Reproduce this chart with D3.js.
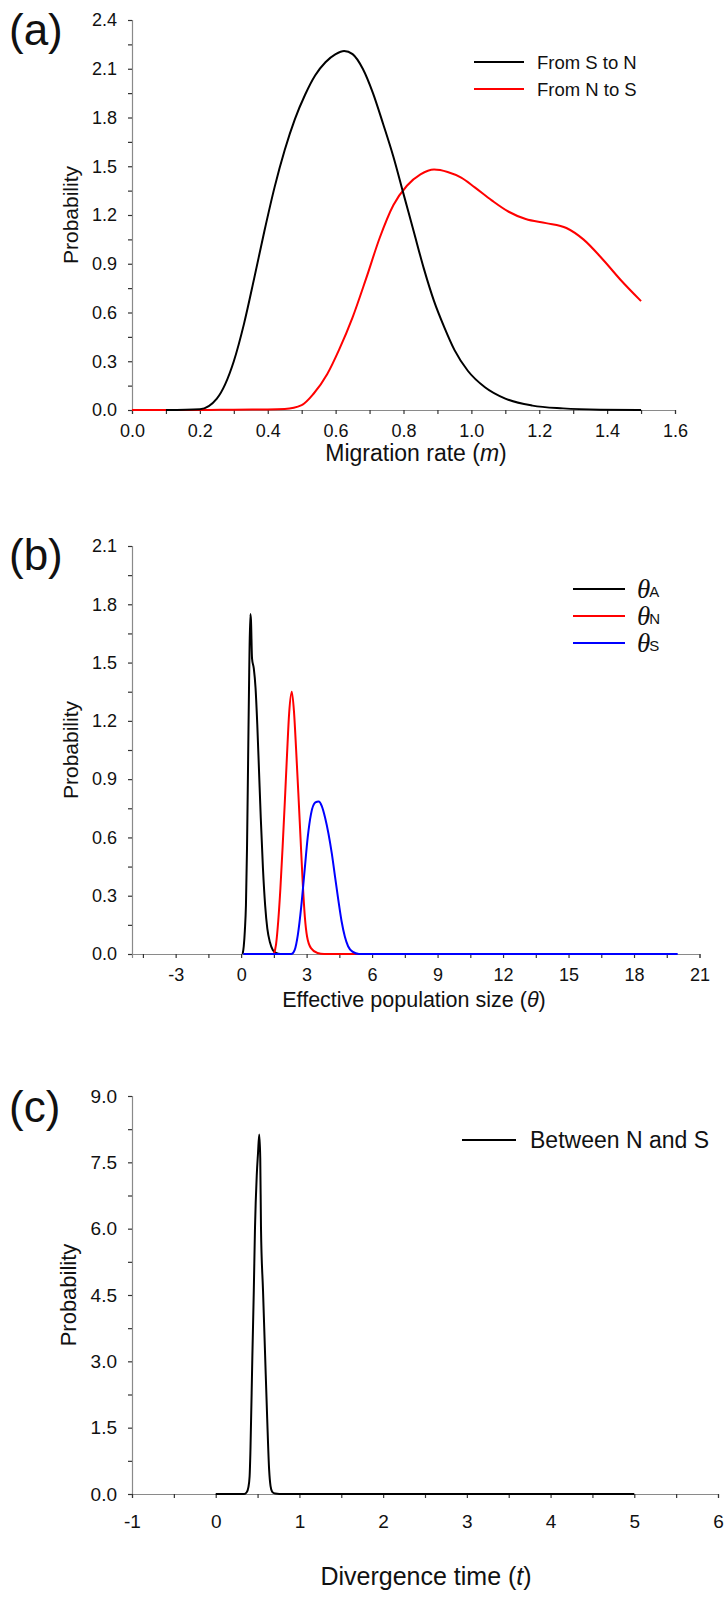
<!DOCTYPE html>
<html>
<head>
<meta charset="utf-8">
<script src="https://cdn.jsdelivr.net/npm/d3@7"></script>
<style>
  html, body { margin: 0; padding: 0; background: #fff; }
  svg { display: block; }
  text { font-family: "Liberation Sans", Arial, sans-serif; fill: #111; }
</style>
</head>
<body>
<svg id="chart" width="726" height="1603"></svg>
<script>
// ---------------- DATA ----------------
// Panel (a): migration rate m
const migTicksMajor = [0.0, 0.2, 0.4, 0.6, 0.8, 1.0, 1.2, 1.4, 1.6];
const migTicksMinor = [0.1, 0.3, 0.5, 0.7, 0.9, 1.1, 1.3, 1.5];
const probATicksMajor = [0.0, 0.3, 0.6, 0.9, 1.2, 1.5, 1.8, 2.1, 2.4];

const sToN_m = [0.10, 0.20, 0.25, 0.30, 0.33, 0.36, 0.39, 0.42, 0.45, 0.48, 0.51, 0.54, 0.57, 0.60, 0.625, 0.65, 0.68, 0.71, 0.74, 0.77, 0.80, 0.83, 0.86, 0.89, 0.92, 0.95, 0.99, 1.04, 1.10, 1.18, 1.27, 1.38, 1.50];
const sToN_p = [0.00, 0.005, 0.07, 0.30, 0.53, 0.81, 1.10, 1.37, 1.60, 1.79, 1.94, 2.06, 2.14, 2.19, 2.21, 2.19, 2.10, 1.95, 1.76, 1.56, 1.33, 1.10, 0.87, 0.67, 0.51, 0.37, 0.24, 0.14, 0.07, 0.027, 0.01, 0.002, 0.00];

const nToS_m = [0.00, 0.10, 0.20, 0.30, 0.40, 0.45, 0.50, 0.535, 0.575, 0.61, 0.65, 0.69, 0.73, 0.77, 0.81, 0.85, 0.89, 0.93, 0.97, 1.01, 1.06, 1.11, 1.16, 1.22, 1.28, 1.33, 1.39, 1.44, 1.50];
const nToS_p = [0.00, 0.00, 0.00, 0.002, 0.003, 0.006, 0.03, 0.10, 0.22, 0.37, 0.57, 0.81, 1.06, 1.26, 1.38, 1.45, 1.48, 1.465, 1.43, 1.37, 1.29, 1.22, 1.175, 1.15, 1.12, 1.05, 0.92, 0.80, 0.67];

// Panel (b): effective population size theta
const thetaTicksMajor = [-3, 0, 3, 6, 9, 12, 15, 18, 21];
const thetaTicksMinor = [-4.5, -1.5, 1.5, 4.5, 7.5, 10.5, 13.5, 16.5, 19.5];
const probBTicksMajor = [0.0, 0.3, 0.6, 0.9, 1.2, 1.5, 1.8, 2.1];

const thetaA_x = [0.07, 0.12, 0.17, 0.22, 0.27, 0.32, 0.37, 0.42, 0.45, 0.50, 0.58, 0.66, 0.74, 0.82, 0.90, 1.00, 1.10, 1.20, 1.32, 1.45, 1.60, 1.80, 2.00];
const thetaA_p = [0.00, 0.04, 0.12, 0.25, 0.55, 1.00, 1.45, 1.75, 1.72, 1.52, 1.47, 1.37, 1.18, 0.94, 0.70, 0.44, 0.25, 0.13, 0.06, 0.02, 0.005, 0.00, 0.00];

const thetaN_x = [1.50, 1.60, 1.70, 1.80, 1.90, 2.00, 2.10, 2.20, 2.32, 2.42, 2.52, 2.62, 2.72, 2.82, 2.92, 3.02, 3.20, 3.50, 3.80, 5.40];
const thetaN_p = [0.00, 0.05, 0.17, 0.34, 0.55, 0.78, 1.02, 1.24, 1.35, 1.25, 1.05, 0.83, 0.60, 0.37, 0.19, 0.09, 0.03, 0.005, 0.00, 0.00];

const thetaS_x = [0.10, 2.30, 2.45, 2.60, 2.75, 2.90, 3.05, 3.20, 3.40, 3.55, 3.70, 3.85, 4.00, 4.15, 4.30, 4.45, 4.60, 4.75, 4.90, 5.10, 5.40, 20.0];
const thetaS_p = [0.00, 0.00, 0.02, 0.10, 0.24, 0.42, 0.60, 0.72, 0.78, 0.785, 0.76, 0.70, 0.62, 0.52, 0.40, 0.28, 0.17, 0.09, 0.04, 0.012, 0.00, 0.00];

// Panel (c): divergence time t
const timeTicksMajor = [-1, 0, 1, 2, 3, 4, 5, 6];
const timeTicksMinor = [-0.5, 0.5, 1.5, 2.5, 3.5, 4.5, 5.5];
const probCTicksMajor = [0.0, 1.5, 3.0, 4.5, 6.0, 7.5, 9.0];

const divT_x = [0.00, 0.34, 0.37, 0.39, 0.405, 0.415, 0.438, 0.455, 0.469, 0.49, 0.505, 0.52, 0.532, 0.541, 0.565, 0.59, 0.615, 0.638, 0.655, 0.675, 0.71, 0.76, 5.00];
const divT_p = [0.00, 0.00, 0.04, 0.15, 0.40, 1.00, 3.14, 4.60, 6.00, 7.20, 7.70, 8.13, 7.60, 6.00, 4.60, 3.14, 1.70, 0.55, 0.18, 0.05, 0.01, 0.00, 0.00];

// ---------------- DRAW ----------------
const svg = d3.select("#chart");
const AXIS_GREY = "#8a8a8a";
const TICK_GREY = "#333";

function zip(xs, ys) { return xs.map((x, i) => ({ x: x, y: ys[i] })); }

function panel(cfg) {
  const x = d3.scaleLinear().domain(cfg.xDomain).range([cfg.left, cfg.right]);
  const y = d3.scaleLinear().domain(cfg.yDomain).range([cfg.bottom, cfg.top]);
  const g = svg.append("g");

  const yMinor = [];
  for (let i = 0; i < cfg.yMajor.length - 1; i++) yMinor.push((cfg.yMajor[i] + cfg.yMajor[i + 1]) / 2);

  // Y axis
  const yAx = g.append("g").attr("transform", `translate(${cfg.left},0)`)
    .call(d3.axisLeft(y).tickValues(cfg.yMajor).tickSize(4).tickPadding(cfg.yPad).tickFormat(d3.format(".1f")));
  const yMin = yAx.append("g").call(d3.axisLeft(y).tickValues(yMinor).tickSize(4).tickFormat(""));
  yMin.select("path.domain").remove();

  // X axis
  const xAx = g.append("g").attr("transform", `translate(0,${cfg.bottom})`)
    .call(d3.axisBottom(x).tickValues(cfg.xMajor).tickSize(4).tickPadding(cfg.xPad).tickFormat(cfg.xFormat));
  const xMin = xAx.append("g").call(d3.axisBottom(x).tickValues(cfg.xMinor).tickSize(4).tickFormat(""));
  xMin.select("path.domain").remove();

  [yAx, xAx].forEach(ax => {
    ax.selectAll("path.domain").attr("stroke", AXIS_GREY).attr("stroke-width", 1.2);
    ax.selectAll(".tick line").attr("stroke", TICK_GREY).attr("stroke-width", 1.2);
    ax.selectAll(".tick text").style("font-size", cfg.tickFont + "px").attr("fill", "#111")
      .style("font-family", '"Liberation Sans", Arial, sans-serif');
  });

  // Curves
  const line = d3.line().x(d => x(d.x)).y(d => y(d.y)).curve(d3.curveMonotoneX);
  cfg.series.forEach(s => {
    g.append("path").datum(zip(s.xs, s.ys))
      .attr("fill", "none").attr("stroke", s.color).attr("stroke-width", 2)
      .attr("stroke-linejoin", "round").attr("d", line);
  });

  // Y title
  g.append("text")
    .attr("transform", `translate(${cfg.yTitleX},${(cfg.top + cfg.bottom) / 2}) rotate(-90)`)
    .attr("text-anchor", "middle").attr("dominant-baseline", "central")
    .style("font-size", cfg.yTitleFont + "px").text("Probability");

  // X title
  const xt = g.append("text").attr("x", cfg.xTitleCX).attr("y", cfg.xTitleY)
    .attr("text-anchor", "middle").attr("dominant-baseline", "central")
    .style("font-size", cfg.xTitleFont + "px");
  cfg.xTitle.forEach(p => {
    const t = xt.append("tspan").text(p.t);
    if (p.it) t.style("font-style", "italic");
  });

  // Panel label
  g.append("text").attr("x", 9).attr("y", cfg.labelY).style("font-size", "44px").text(cfg.label);

  // Legend
  cfg.legend.forEach((l, i) => {
    const ly = cfg.legY + i * cfg.legStep;
    g.append("line").attr("x1", cfg.legX1).attr("x2", cfg.legX2).attr("y1", ly).attr("y2", ly)
      .attr("stroke", l.color).attr("stroke-width", 2);
    const t = g.append("text").attr("x", cfg.legTX).attr("y", ly).attr("dominant-baseline", "central")
      .style("font-size", cfg.legFont + "px");
    if (l.sub) {
      t.append("tspan").text("θ").style("font-style", "italic")
        .style("font-family", '"Liberation Serif", "Times New Roman", serif').style("font-size", "27px");
      t.append("tspan").text(l.sub).attr("dx", -1).style("font-size", "15px").attr("dy", 2);
    } else {
      t.text(l.text);
    }
  });
}

const plainFmt = d => String(d);

panel({
  left: 132, right: 675, top: 20, bottom: 410,
  xDomain: [0, 1.6], yDomain: [0, 2.4],
  xMajor: migTicksMajor, xMinor: migTicksMinor, yMajor: probATicksMajor,
  xFormat: d3.format(".1f"), tickFont: 18, yPad: 11, xPad: 10,
  series: [
    { xs: nToS_m, ys: nToS_p, color: "#ff0000" },
    { xs: sToN_m, ys: sToN_p, color: "#000000" }
  ],
  yTitleX: 70, yTitleFont: 21, xTitleCX: 416, xTitleY: 453, xTitleFont: 23,
  xTitle: [{ t: "Migration rate (" }, { t: "m", it: true }, { t: ")" }],
  label: "(a)", labelY: 45,
  legend: [{ text: "From S to N", color: "#000" }, { text: "From N to S", color: "#ff0000" }],
  legX1: 474, legX2: 524, legTX: 537, legY: 62, legStep: 27, legFont: 18.5
});

panel({
  left: 132, right: 699.5, top: 546, bottom: 954,
  xDomain: [-5, 21], yDomain: [0, 2.1],
  xMajor: thetaTicksMajor, xMinor: thetaTicksMinor, yMajor: probBTicksMajor,
  xFormat: plainFmt, tickFont: 18, yPad: 11, xPad: 10,
  series: [
    { xs: thetaA_x, ys: thetaA_p, color: "#000000" },
    { xs: thetaN_x, ys: thetaN_p, color: "#ff0000" },
    { xs: thetaS_x, ys: thetaS_p, color: "#0000ff" }
  ],
  yTitleX: 70, yTitleFont: 21, xTitleCX: 414, xTitleY: 1000, xTitleFont: 21.5,
  xTitle: [{ t: "Effective population size (" }, { t: "θ", it: true }, { t: ")" }],
  label: "(b)", labelY: 570,
  legend: [{ sub: "A", color: "#000" }, { sub: "N", color: "#ff0000" }, { sub: "S", color: "#0000ff" }],
  legX1: 573, legX2: 625, legTX: 637, legY: 589, legStep: 27, legFont: 20
});

panel({
  left: 132, right: 718, top: 1096, bottom: 1494,
  xDomain: [-1, 6], yDomain: [0, 9],
  xMajor: timeTicksMajor, xMinor: timeTicksMinor, yMajor: probCTicksMajor,
  xFormat: plainFmt, tickFont: 19, yPad: 11, xPad: 17,
  series: [
    { xs: divT_x, ys: divT_p, color: "#000000" }
  ],
  yTitleX: 68, yTitleFont: 22, xTitleCX: 426, xTitleY: 1576, xTitleFont: 25,
  xTitle: [{ t: "Divergence time (" }, { t: "t", it: true }, { t: ")" }],
  label: "(c)", labelY: 1122,
  legend: [{ text: "Between N and S", color: "#000" }],
  legX1: 462, legX2: 516, legTX: 530, legY: 1140, legStep: 27, legFont: 23
});
</script>
</body>
</html>
